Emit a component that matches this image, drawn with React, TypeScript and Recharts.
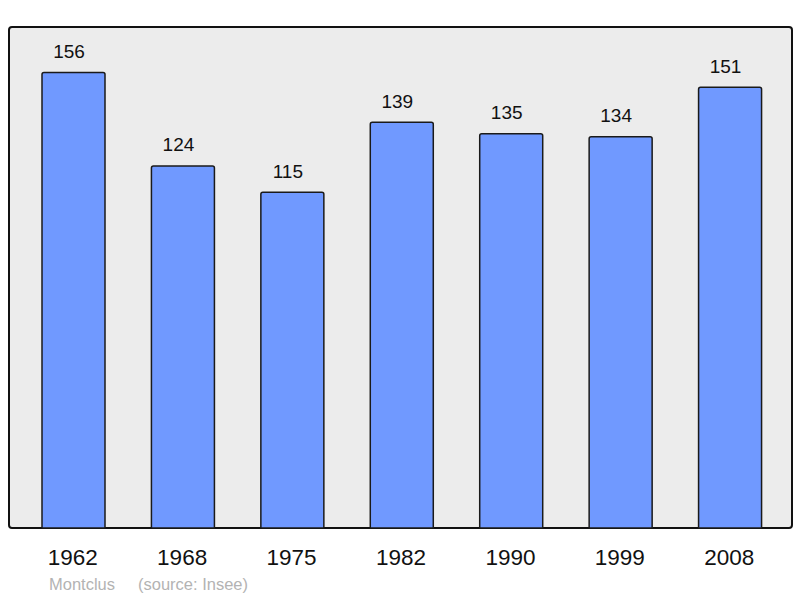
import React from "react";
import { Bar, BarChart, LabelList, XAxis, YAxis } from "recharts";

const years = ["1962", "1968", "1975", "1982", "1990", "1999", "2008"];
const population = [156, 124, 115, 139, 135, 134, 151];

const commune = "Montclus";
const source = "(source: Insee)";

const barBlue = "#7099ff";
const frameFill = "#ececec";
const footerGrey = "#b3b3b3";

const rows = years.map((year, i) => ({ year, value: population[i] }));

export default function App() {
  return (
    <div
      style={{
        position: "absolute",
        left: 0,
        top: 0,
        width: 800,
        height: 598,
        background: "#fff",
        fontFamily: "'Liberation Sans', Arial, sans-serif",
      }}
    >
      {/* plot frame behind the svg */}
      <div
        style={{
          position: "absolute",
          left: 8,
          top: 26,
          width: 781,
          height: 499,
          background: frameFill,
          border: "2px solid #111",
          borderRadius: 4,
        }}
      />
      <BarChart
        width={800}
        height={598}
        data={rows}
        margin={{ top: 27, right: 8, left: 9, bottom: 0 }}
        style={{ position: "absolute", left: 0, top: 0 }}
      >
        <XAxis
          dataKey="year"
          axisLine={false}
          tickLine={false}
          tickSize={8}
          tickMargin={13}
          padding={{ left: 10, right: 7 }}
          interval={0}
          height={70}
          tick={{ fill: "#111", fontSize: 22.5, fontFamily: "'Liberation Sans', Arial, sans-serif", dx: -1 }}
        />
        <YAxis hide domain={[0, 171.6]} width={0} />
        <Bar
          dataKey="value"
          fill={barBlue}
          stroke="#1a1a1a"
          strokeWidth={1.5}
          barSize={63}
          radius={[2, 2, 0, 0]}
          isAnimationActive={false}
        >
          <LabelList
            dataKey="value"
            position="top"
            offset={14.5}
            dx={-4.5}
            fill="#111"
            fontSize={19}
            fontFamily="'Liberation Sans', Arial, sans-serif"
          />
        </Bar>
      </BarChart>
      <div
        style={{
          position: "absolute",
          left: 49,
          top: 575,
          fontSize: 16.5,
          color: footerGrey,
          whiteSpace: "pre",
        }}
      >
        <span>{commune}</span>
        <span style={{ position: "absolute", left: 89 }}>{source}</span>
      </div>
    </div>
  );
}
